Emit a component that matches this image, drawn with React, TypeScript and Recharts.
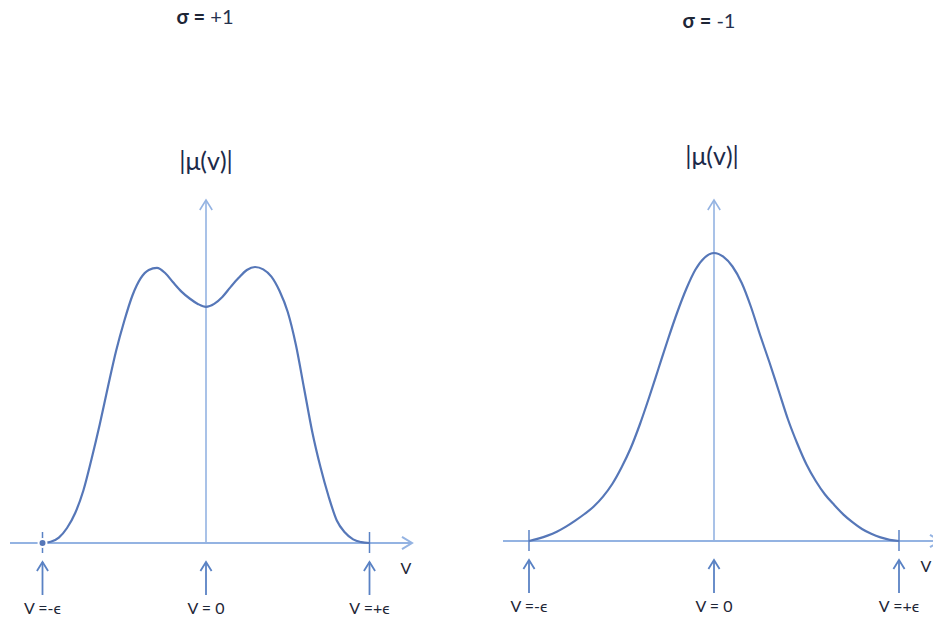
import React from "react"
import { LineChart, Line, XAxis, YAxis, ReferenceLine } from "recharts"

// v measured in units of epsilon, |mu| in arbitrary units
const vGrid = [
  -1, -0.95, -0.9, -0.85, -0.8, -0.75, -0.7, -0.65, -0.6, -0.55, -0.5, -0.45, -0.4, -0.35, -0.3, -0.25, -0.2, -0.15, -0.1, -0.05,
  0, 0.05, 0.1, 0.15, 0.2, 0.25, 0.3, 0.35, 0.4, 0.45, 0.5, 0.55, 0.6, 0.65, 0.7, 0.75, 0.8, 0.85, 0.9, 0.95, 1,
]
const muPlus = [
  0, 0.004, 0.018, 0.05, 0.1, 0.175, 0.28, 0.395, 0.52, 0.64, 0.74, 0.825, 0.882, 0.91, 0.917, 0.9, 0.868, 0.838, 0.815, 0.797,
  0.787, 0.797, 0.82, 0.853, 0.884, 0.91, 0.92, 0.912, 0.888, 0.84, 0.77, 0.66, 0.515, 0.37, 0.253, 0.155, 0.075, 0.035, 0.012, 0.003, 0,
]
const muMinus = [
  0, 0.008, 0.018, 0.031, 0.048, 0.068, 0.09, 0.115, 0.148, 0.19, 0.245, 0.31, 0.39, 0.48, 0.575, 0.67, 0.76, 0.84, 0.905, 0.945,
  0.96, 0.948, 0.915, 0.86, 0.78, 0.685, 0.595, 0.5, 0.405, 0.325, 0.255, 0.2, 0.155, 0.12, 0.088, 0.062, 0.04, 0.024, 0.012, 0.004, 0,
]
const markerV = [-1, 0, 1]
const markerLabels = ["V =-ϵ", "V = 0", "V =+ϵ"]

const AXIS = "#94b3e2"
const CURVE = "#5677b8"
const MARK = "#5a82c4"
const TEXT = "#1e2636"
const FONT = "Lato, 'Open Sans', sans-serif"

const plusData = vGrid.map((v, i) => ({ v, mu: muPlus[i] }))
const minusData = vGrid.map((v, i) => ({ v, mu: muMinus[i] }))

function Arrow(props: any) {
  const { x1, y1, x2, y2, color, width, head, text, atEnd, textDx = 0, textDy = 0, textSize = 16 } = props
  const dx = x2 - x1
  const dy = y2 - y1
  const len = Math.sqrt(dx * dx + dy * dy) || 1
  const ux = dx / len
  const uy = dy / len
  const px = -uy
  const py = ux
  const h = head || 9
  const w = h * 0.62
  const a = `M${x2 - ux * h + px * w},${y2 - uy * h + py * w} L${x2},${y2} L${x2 - ux * h - px * w},${y2 - uy * h - py * w}`
  const tx = (atEnd ? x2 : x1) + textDx
  const ty = (atEnd ? y2 : y1) + textDy
  return (
    <g>
      <line x1={x1} y1={y1} x2={x2} y2={y2} stroke={color} strokeWidth={width} />
      <path d={a} fill="none" stroke={color} strokeWidth={width} />
      {text && (
        <text x={tx} y={ty} textAnchor="middle" fontSize={textSize} fontFamily={FONT} fill={TEXT}>
          {text}
        </text>
      )}
    </g>
  )
}

function Tick(props: any) {
  const { x1, y1, x2, y2 } = props
  return <line x1={x1} y1={y1} x2={x2} y2={y2} stroke={MARK} strokeWidth={1.5} />
}

type PanelProps = {
  data: { v: number; mu: number }[]
  left: number
  width: number
  xDomain: [number, number]
  yDomain: [number, number]
  axisFrom: number
  axisTo: number
  axisTop: number
  yPerPx: number
  vDx: number
}

function Panel({ data, left, width, xDomain, yDomain, axisFrom, axisTo, axisTop, yPerPx, vDx }: PanelProps) {
  return (
    <div style={{ position: "absolute", left, top: 0 }}>
      <LineChart width={width} height={621} data={data} margin={{ top: 0, right: 0, bottom: 0, left: 0 }}>
        <XAxis hide type="number" dataKey="v" domain={xDomain} allowDataOverflow />
        <YAxis hide type="number" domain={yDomain} allowDataOverflow />
        <ReferenceLine
          segment={[{ x: axisFrom, y: 0 }, { x: axisTo, y: 0 }]}
          ifOverflow="visible"
          shape={(p: any) => <Arrow {...p} color={AXIS} width={2} head={10} text="V" atEnd textDx={vDx} textDy={31} />}
        />
        <ReferenceLine
          segment={[{ x: 0, y: 0 }, { x: 0, y: axisTop }]}
          ifOverflow="visible"
          shape={(p: any) => <Arrow {...p} color={AXIS} width={1.6} head={10} />}
        />
        {markerV.filter((v) => v !== 0).map((v) => (
          <ReferenceLine
            key={"t" + v}
            segment={[{ x: v, y: 11 * yPerPx }, { x: v, y: -10 * yPerPx }]}
            ifOverflow="visible"
            shape={(p: any) => <Tick {...p} />}
          />
        ))}
        {markerV.map((v, i) => (
          <ReferenceLine
            key={"m" + v}
            segment={[{ x: v, y: -52 * yPerPx }, { x: v, y: -19 * yPerPx }]}
            ifOverflow="visible"
            shape={(p: any) => <Arrow {...p} color={MARK} width={1.8} head={9} text={markerLabels[i]} textDy={19} textSize={16} />}
          />
        ))}
        <Line type="monotone" dataKey="mu" stroke={CURVE} strokeWidth={2.2} dot={false} isAnimationActive={false} />
      </LineChart>
    </div>
  )
}

export default function App() {
  const lu = 163.5
  const lc = 206
  const ru = 185
  const rc = 714
  return (
    <div style={{ position: "absolute", left: 0, top: 0, width: 933, height: 621, overflow: "hidden", background: "#fff", fontFamily: FONT }}>
      <div style={{ position: "absolute", left: 150, width: 110, top: 4, textAlign: "center", fontSize: 20, color: TEXT }}>
        <b>σ =</b> <span style={{ color: "#26324f" }}>+1</span>
      </div>
      <div style={{ position: "absolute", left: 654, width: 110, top: 8, textAlign: "center", fontSize: 20, color: TEXT }}>
        <b>σ =</b> <span style={{ color: "#26324f" }}>-1</span>
      </div>
      <div style={{ position: "absolute", left: 146, width: 120, top: 145, textAlign: "center", fontSize: 25, color: "#1c2a4a" }}>|μ(v)|</div>
      <div style={{ position: "absolute", left: 652, width: 120, top: 140, textAlign: "center", fontSize: 25, color: "#1c2a4a" }}>|μ(v)|</div>
      <Panel
        data={plusData}
        left={0}
        width={440}
        xDomain={[(0 - lc) / lu, (440 - lc) / lu]}
        yDomain={[-78 / 300, 543 / 300]}
        axisFrom={(10 - lc) / lu}
        axisTo={(412 - lc) / lu}
        axisTop={(543 - 200) / 300}
        yPerPx={1 / 300}
        vDx={-6}
      />
      <Panel
        data={minusData}
        left={480}
        width={470}
        xDomain={[(480 - rc) / ru, (950 - rc) / ru]}
        yDomain={[-80 / 300, 541 / 300]}
        axisFrom={(503 - rc) / ru}
        axisTo={(940 - rc) / ru}
        axisTop={(541 - 200) / 300}
        yPerPx={1 / 300}
        vDx={-14}
      />
    </div>
  )
}
